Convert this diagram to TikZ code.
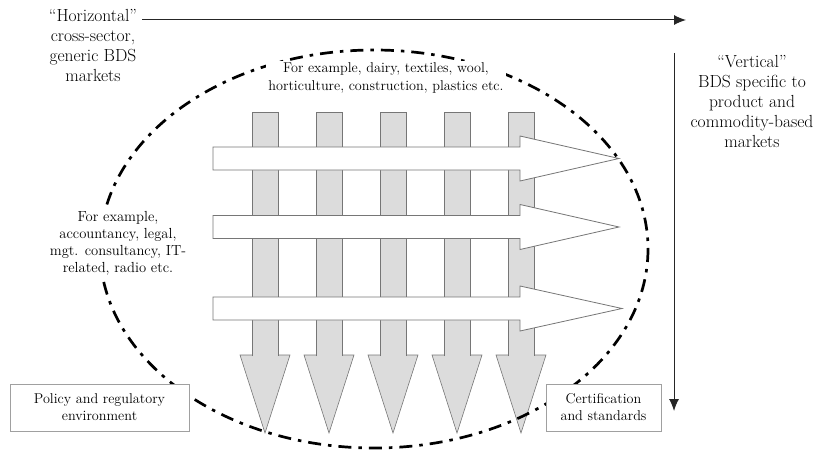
\documentclass[tikz,border=0pt]{standalone}
\usetikzlibrary{arrows.meta}
\definecolor{arrgray}{HTML}{DCDCDC}
\definecolor{edgegray}{HTML}{767676}
\definecolor{boxgray}{HTML}{A0A0A0}
\tikzset{
  vshaft/.style={fill=arrgray,draw=edgegray,line width=1pt},
  vhead/.style={fill=arrgray,draw=edgegray,line width=0.6pt},
  harrow/.style={fill=white,draw=edgegray,line width=0.8pt},
  sidetext/.style={align=center,font=\fontsize{17.5}{20}\selectfont,inner sep=0pt},
  innertext/.style={align=center,font=\fontsize{14.2}{18}\selectfont,inner sep=0pt},
  infobox/.style={draw=boxgray,fill=white,line width=0.8pt,align=center,font=\fontsize{14.2}{17}\selectfont,inner sep=0pt},
  axisarrow/.style={draw=black!85,line width=1pt,-{Latex[length=12pt,width=10pt]}},
  boundary/.style={line width=2.7pt,dash pattern=on 13pt off 7pt on 3.5pt off 7pt}
}
\begin{document}
\begin{tikzpicture}[x=1pt,y=-1pt]
\useasboundingbox (0,0) rectangle (829,452);
% vertical arrows
\foreach \c in {265,329,393,457,521}{
  \draw[vhead] (\c-25,355) -- (\c+25,355) -- (\c,433) -- cycle;
  \draw[vshaft] (\c-13,356) -- (\c-13,112) -- (\c+13,112) -- (\c+13,356);
}
% horizontal arrows
\foreach \c/\t in {158.5/619,227/619,308.5/622}{
  \draw[harrow] (213,\c-11.5) -- (520,\c-11.5) -- (520,\c-22.5) -- (\t,\c) -- (520,\c+22.5) -- (520,\c+11.5) -- (213,\c+11.5) -- cycle;
}
% boundary ellipse
\draw[boundary] (374,249) ellipse [x radius=274, y radius=199];
% texts
\node[sidetext] (hor) at (93,45) {``Horizontal''\\cross-sector,\\generic BDS\\markets};
\node[sidetext] (ver) at (752,101) {``Vertical''\\BDS specific to\\product and\\commodity-based\\markets};
\node[innertext,fill=white,inner sep=2pt] (top) at (386,78) {For example, dairy, textiles, wool,\\horticulture, construction, plastics etc.};
\node[innertext,fill=white,inner sep=3pt,font=\fontsize{14.6}{17}\selectfont] (left) at (118,243) {For example,\\accountancy, legal,\\mgt. consultancy, IT-\\related, radio etc.};
\node[infobox,minimum width=179pt,minimum height=47pt] (pol) at (99.5,407.5) {Policy and regulatory\\environment};
\node[infobox,minimum width=115pt,minimum height=47pt] (cert) at (603.5,407.5) {Certification\\and standards};
% axis arrows
\coordinate (hstart) at (142,20);
\coordinate (hend) at (686,20);
\coordinate (vstart) at (674,53);
\coordinate (vend) at (674,411);
\draw[axisarrow] (hstart) -- (hend);
\draw[axisarrow] (vstart) -- (vend);
\end{tikzpicture}
\end{document}
